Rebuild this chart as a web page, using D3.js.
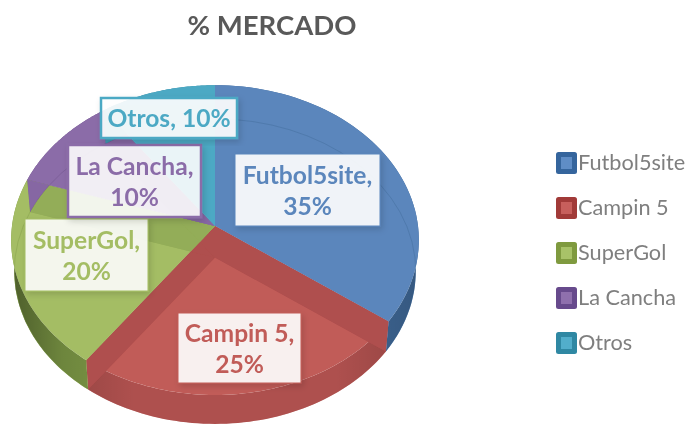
<!DOCTYPE html>
<html><head><meta charset="utf-8">
<script src="https://cdn.jsdelivr.net/npm/d3@7/dist/d3.min.js"></script>
<style>html,body{margin:0;padding:0;background:#fff}svg{display:block;filter:blur(.5px)}</style>
</head><body><svg id="c" width="687" height="424"></svg>
<script>
const chartTitle = "% MERCADO";
const categories = ["Futbol5site","Campin 5","SuperGol","La Cancha","Otros"];
const values = [35,25,20,10,10];
const topColors = ["#5b86bc","#c15c58","#a4bd64","#8b6ca8","#4ca9c4"];
const sideColors = ["#3f6897","#ae504e","#7f9b47","#6c5088","#358aa2"];
const wallColors = ["#5782b9","#af4f4e","#93ad58","#8667a3","#3f97b0"];
const legendColors = ["#35659d","#a13a38","#7f9a3f","#674a8c","#2f88a3"];
const legendInner = ["#5f8dc6","#c75f5c","#a8c268","#8f70ad","#52aecb"];

// layout
const cx=215, cy=226, sx=203, sy=153.6, k=0.0909, depth=31.5, shrink=0.985;
const labelBoxes = [
  {x:235,y:154,w:145,h:72,bw:1,op:.9},
  {x:178,y:313,w:123,h:70,bw:1,op:.9},
  {x:25,y:219,w:123,h:72,bw:1,op:.88},
  {x:68,y:145,w:133,h:72,bw:2.5,op:.88},
  {x:101,y:98,w:136,h:40,bw:2.5,op:.9}
];

const svg=d3.select("#c");
const defs=svg.append("defs");
const sh=defs.append("filter").attr("id","shadow").attr("x","-20%").attr("y","-20%").attr("width","140%").attr("height","140%");
sh.append("feDropShadow").attr("dx",2).attr("dy",3).attr("stdDeviation",3).attr("flood-color","#000").attr("flood-opacity",.16);
const lg=defs.append("linearGradient").attr("id","sideShade").attr("x1",0).attr("x2",1).attr("y1",0).attr("y2",0);
[[0,"#000",.38],[.12,"#000",.14],[.3,"#000",0],[.8,"#000",0],[1,"#000",.15]].forEach(s=>
  lg.append("stop").attr("offset",s[0]).attr("stop-color",s[1]).attr("stop-opacity",s[2]));

function project(a,r,bottom){
  const X=r*Math.sin(a), Y=-r*Math.cos(a), w=1-k*Y, s=bottom?shrink:1;
  return [cx+sx*s*X/w, cy+sy*s*Y/w+(bottom?depth:0)];
}
const line=d3.line();
const arcs=d3.pie().sort(null)(values);
const rim=(a0,a1,bottom)=>d3.range(0,61).map(i=>project(a0+(a1-a0)*i/60,1,bottom));

const topPts=d=>[project(0,0,false),...rim(d.startAngle,d.endAngle,false)];
const sidePts=d=>[...rim(d.startAngle,d.endAngle,false),...rim(d.startAngle,d.endAngle,true).reverse()];

// sides
svg.append("g").selectAll("path").data(arcs).join("path")
  .attr("d",d=>line(sidePts(d))+"Z").attr("fill",(d,i)=>sideColors[i]);
// shade over the whole silhouette of the side
svg.append("path").attr("d",line(rim(0,2*Math.PI,true))+"Z").attr("fill","url(#sideShade)");
// tops
svg.append("g").selectAll("path").data(arcs).join("path")
  .attr("d",d=>line(topPts(d))+"Z").attr("fill",(d,i)=>topColors[i]);

// translucent inner walls, seen through the glass
arcs.forEach((d,i)=>{
  const clip=defs.append("clipPath").attr("id","clip"+i);
  clip.append("path").attr("d",line(topPts(d))+"Z");
  clip.append("path").attr("d",line(sidePts(d))+"Z");
  const g=svg.append("g").attr("clip-path",`url(#clip${i})`);
  arcs.forEach(o=>{
    [o.startAngle,o.endAngle].forEach(a=>{
      const quad=[project(0,0,false),project(a,1,false),project(a,1,true),project(0,0,true)];
      g.append("path").attr("d",line(quad)+"Z").attr("fill",wallColors[i]);
    });
  });
  g.append("path").attr("d",line(rim(0,2*Math.PI,true))+"Z").attr("fill","none")
    .attr("stroke",sideColors[i]).attr("stroke-opacity",.4).attr("stroke-width",1);
});

// labels
const lab=svg.append("g").selectAll("g").data(arcs).join("g");
lab.append("rect")
  .attr("x",(d,i)=>labelBoxes[i].x).attr("y",(d,i)=>labelBoxes[i].y)
  .attr("width",(d,i)=>labelBoxes[i].w).attr("height",(d,i)=>labelBoxes[i].h)
  .attr("fill",(d,i)=>d3.color("#fff").copy({opacity:labelBoxes[i].op}))
  .attr("stroke",(d,i)=>topColors[i]).attr("stroke-width",(d,i)=>labelBoxes[i].bw)
  .attr("filter","url(#shadow)");
lab.each(function(d,i){
  const b=labelBoxes[i], g=d3.select(this), pct=values[i]+"%";
  const common=t=>t.attr("text-anchor","middle").attr("x",b.x+b.w/2)
    .attr("font-family","Lato").attr("font-weight",700).attr("font-size",24.6).attr("fill",topColors[i]);
  if(b.h<50){
    common(g.append("text")).attr("y",b.y+b.h/2+9).text(categories[i]+", "+pct);
  }else{
    common(g.append("text")).attr("y",b.y+b.h/2-6.5).text(categories[i]+",");
    common(g.append("text")).attr("y",b.y+b.h/2+24.5).text(pct);
  }
});

// title
svg.append("text").attr("x",272).attr("y",35).attr("text-anchor","middle")
  .attr("font-family","Lato").attr("font-weight",700).attr("font-size",27.5).attr("fill","#595959").text(chartTitle);

// legend
const ly=d3.scalePoint().domain(categories).range([163,343]);
const leg=svg.append("g").selectAll("g").data(categories).join("g")
  .attr("transform",d=>`translate(556,${ly(d)})`);
leg.append("rect").attr("x",0).attr("y",-11).attr("width",21).attr("height",22).attr("rx",2.5)
  .attr("fill",(d,i)=>legendColors[i]);
leg.append("rect").attr("x",5).attr("y",-6).attr("width",11).attr("height",12)
  .attr("fill",(d,i)=>legendInner[i]);
leg.append("text").attr("x",22).attr("y",7).attr("font-family","Lato").attr("font-size",21.7)
  .attr("fill","#7f7f7f").text(d=>d);
</script></body></html>
